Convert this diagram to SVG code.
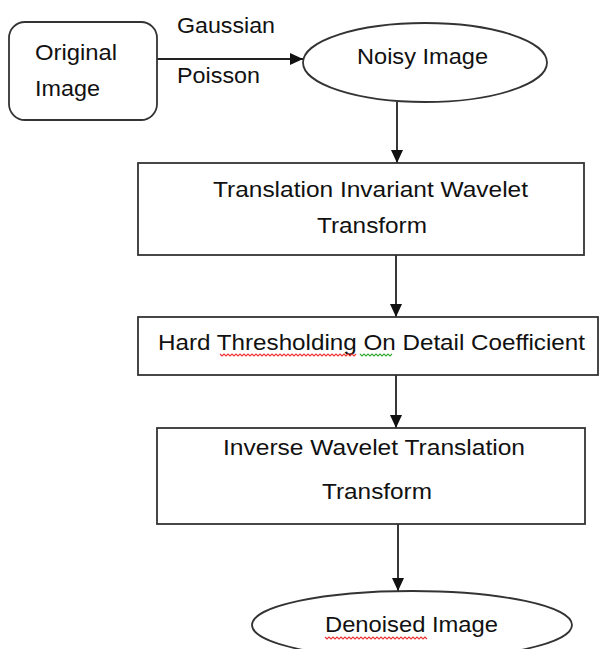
<svg xmlns="http://www.w3.org/2000/svg" width="600" height="649" viewBox="0 0 600 649">
<style>
.shape{fill:#fff;stroke:#333;stroke-width:1.8}
.t{font-family:"Liberation Sans",Arial,sans-serif;font-size:22px;fill:#111}
.edge{stroke:#222;stroke-width:1.8;fill:none}
.sq{fill:none;stroke-width:1.1}
</style>
<defs>
<marker id="arr" markerUnits="userSpaceOnUse" markerWidth="14" markerHeight="12" refX="13" refY="6" orient="auto">
<path d="M0,0 L13,6 L0,12 Z" fill="#111"/>
</marker>
</defs>
<rect width="600" height="649" fill="#fff"/>
<g id="connectors">
<line class="edge" x1="157" y1="59" x2="303" y2="59" marker-end="url(#arr)"/>
<line class="edge" x1="397" y1="102" x2="397" y2="163" marker-end="url(#arr)"/>
<line class="edge" x1="396" y1="255" x2="396" y2="317" marker-end="url(#arr)"/>
<line class="edge" x1="396" y1="375" x2="396" y2="428" marker-end="url(#arr)"/>
<line class="edge" x1="398" y1="524" x2="398" y2="591" marker-end="url(#arr)"/>
<text class="t" x="177" y="33" textLength="98" lengthAdjust="spacingAndGlyphs">Gaussian</text>
<text class="t" x="177" y="83" textLength="83" lengthAdjust="spacingAndGlyphs">Poisson</text>
</g>
<g id="original">
<rect class="shape" x="9" y="22" width="148" height="98" rx="16"/>
<text class="t" x="35" y="60" textLength="82" lengthAdjust="spacingAndGlyphs">Original</text>
<text class="t" x="35" y="96" textLength="65" lengthAdjust="spacingAndGlyphs">Image</text>
</g>
<g id="noisy">
<ellipse class="shape" cx="425" cy="62.5" rx="122" ry="39.5"/>
<text class="t" x="357" y="64" textLength="131" lengthAdjust="spacingAndGlyphs">Noisy Image</text>
</g>
<g id="tiwt">
<rect class="shape" x="138" y="163" width="446" height="92"/>
<text class="t" x="213" y="197" textLength="315" lengthAdjust="spacingAndGlyphs">Translation Invariant Wavelet</text>
<text class="t" x="317" y="233" textLength="110" lengthAdjust="spacingAndGlyphs">Transform</text>
</g>
<g id="threshold">
<rect class="shape" x="138" y="317" width="460" height="58"/>
<text class="t" x="158" y="350" textLength="427" lengthAdjust="spacingAndGlyphs">Hard Thresholding On Detail Coefficient</text>
<polyline class="sq" stroke="#e33" points="220,354 222,356 224,354 226,356 228,354 230,356 232,354 234,356 236,354 238,356 240,354 242,356 244,354 246,356 248,354 250,356 252,354 254,356 256,354 258,356 260,354 262,356 264,354 266,356 268,354 270,356 272,354 274,356 276,354 278,356 280,354 282,356 284,354 286,356 288,354 290,356 292,354 294,356 296,354 298,356 300,354 302,356 304,354 306,356 308,354 310,356 312,354 314,356 316,354 318,356 320,354 322,356 324,354 326,356 328,354 330,356 332,354 334,356 336,354 338,356 340,354 342,356 344,354 346,356 348,354 350,356 352,354 354,356 356,354"/>
<polyline class="sq" stroke="#3a3" points="360,354 362,356 364,354 366,356 368,354 370,356 372,354 374,356 376,354 378,356 380,354 382,356 384,354 386,356 388,354 390,356 392,354"/>
</g>
<g id="inverse">
<rect class="shape" x="157" y="428" width="428" height="96"/>
<text class="t" x="223" y="455" textLength="302" lengthAdjust="spacingAndGlyphs">Inverse Wavelet Translation</text>
<text class="t" x="322" y="499" textLength="110" lengthAdjust="spacingAndGlyphs">Transform</text>
</g>
<g id="denoised">
<ellipse class="shape" cx="412" cy="625" rx="160" ry="34"/>
<text class="t" x="325" y="632" textLength="173" lengthAdjust="spacingAndGlyphs">Denoised Image</text>
<polyline class="sq" stroke="#e33" points="325,637 327,639 329,637 331,639 333,637 335,639 337,637 339,639 341,637 343,639 345,637 347,639 349,637 351,639 353,637 355,639 357,637 359,639 361,637 363,639 365,637 367,639 369,637 371,639 373,637 375,639 377,637 379,639 381,637 383,639 385,637 387,639 389,637 391,639 393,637 395,639 397,637 399,639 401,637 403,639 405,637 407,639 409,637 411,639 413,637 415,639 417,637 419,639 421,637 423,639 425,637 427,639"/>
</g>
</svg>
